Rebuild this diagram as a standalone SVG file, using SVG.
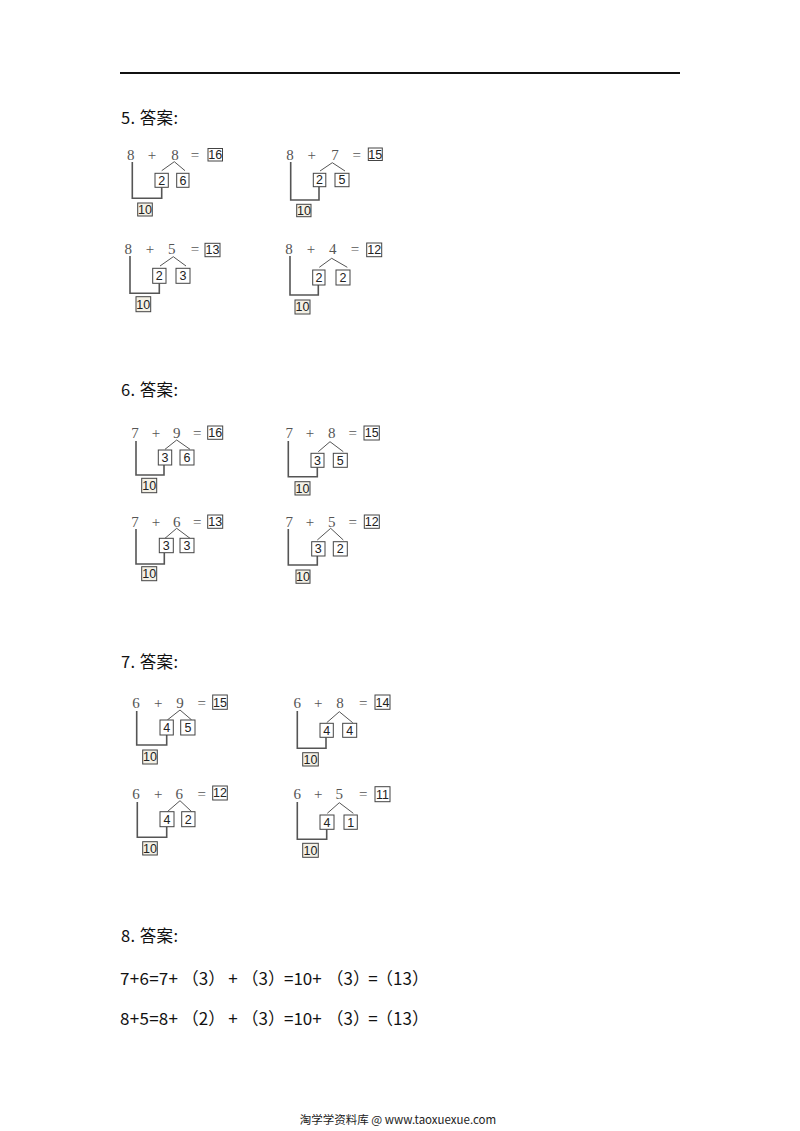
<svg xmlns="http://www.w3.org/2000/svg" width="800" height="1131" viewBox="0 0 800 1131">
<style>
.hd{font-family:"Noto Sans CJK SC","Noto Sans",sans-serif;font-size:16.5px;fill:#111}
.eq{font-family:"Liberation Serif",serif;font-size:15px;fill:#555;text-anchor:middle}
.bx{fill:#fff;stroke:#444;stroke-width:1}
.tb{fill:#f4f1e6;stroke:#444;stroke-width:1}
.bt{font-family:"Liberation Sans",sans-serif;font-size:12.5px;fill:#222;text-anchor:middle}
.ln{stroke:#555;stroke-width:1.6;fill:none}
.br{stroke:#555;stroke-width:1;fill:none}
.s8{font-family:"Noto Sans CJK SC","Noto Sans",sans-serif;font-size:17px;fill:#111}
.m{text-anchor:middle}
.ft{font-family:"Noto Sans CJK SC","Noto Sans",sans-serif;font-size:11.5px;fill:#222;text-anchor:middle}
</style>
<rect width="800" height="1131" fill="#fff"/>
<line x1="120" y1="73" x2="680" y2="73" stroke="#111" stroke-width="2.2"/>

<g id="headings">
<text class="hd" x="121" y="124" textLength="57" lengthAdjust="spacing">5. 答案:</text>
<text class="hd" x="121" y="396" textLength="57" lengthAdjust="spacing">6. 答案:</text>
<text class="hd" x="121" y="668" textLength="57" lengthAdjust="spacing">7. 答案:</text>
<text class="hd" x="121" y="942" textLength="57" lengthAdjust="spacing">8. 答案:</text>
</g>

<g id="connectors">
<path class="ln" d="M132.3 162 V198.3 H161.7 V187.3"/>
<path class="br" d="M161.7 170.7 L174.3 161.7 L185 170.7"/>
<path class="ln" d="M290.7 162 V200 H319 V186.7"/>
<path class="br" d="M320 171 L332.3 162.7 L345 171"/>
<path class="ln" d="M130 256 V293.3 H159.3 V283.3"/>
<path class="br" d="M160 266 L173.3 256.7 L186 266"/>
<path class="ln" d="M290 256 V295 H318.3 V285"/>
<path class="br" d="M319.3 267.3 L331.7 258.3 L347.3 267.3"/>
<path class="ln" d="M136 441 V475 H164 V465"/>
<path class="br" d="M165 449.3 L176.7 440 L190 449.3"/>
<path class="ln" d="M288.3 441 V476.7 H317.3 V467.3"/>
<path class="br" d="M318.3 451.7 L330 441.7 L343.3 451.7"/>
<path class="ln" d="M136 529 V564 H164.3 V552.7"/>
<path class="br" d="M165 538.3 L176.7 528.3 L190 538.3"/>
<path class="ln" d="M288.3 529 V565 H317.3 V556"/>
<path class="br" d="M317.3 540 L330.7 528.3 L343.3 540"/>
<path class="ln" d="M136.7 711 V745 H166.7 V735"/>
<path class="br" d="M167.3 720 L180 710 L191.7 720"/>
<path class="ln" d="M297.3 711 V748.3 H326 V737.3"/>
<path class="br" d="M326.7 722.7 L339.3 711.7 L352.7 722.7"/>
<path class="ln" d="M137.3 802 V837.3 H166.7 V826.7"/>
<path class="br" d="M167.3 811.7 L180 800.7 L191.7 811.7"/>
<path class="ln" d="M297.3 802 V839.3 H326.7 V829.3"/>
<path class="br" d="M327.3 813.3 L339.3 802.7 L353.3 813.3"/>
</g>

<g id="d5a">
<text class="eq" x="130.7" y="160">8</text><text class="eq" x="152" y="160">+</text><text class="eq" x="175" y="160">8</text><text class="eq" x="195" y="160">=</text>
<rect class="bx" x="208" y="148.5" width="14.5" height="12.5"/><text class="bt" x="215.3" y="159.2">16</text>
<rect class="bx" x="155" y="173.3" width="13.3" height="14"/><text class="bt" x="161.7" y="184.7">2</text>
<rect class="bx" x="176.7" y="173.3" width="12.3" height="14"/><text class="bt" x="182.9" y="184.7">6</text>
<rect class="tb" x="137.7" y="203" width="14.6" height="13"/><text class="bt" x="145" y="213.9">10</text>
</g>

<g id="d5b">
<text class="eq" x="290" y="160">8</text><text class="eq" x="311.7" y="160">+</text><text class="eq" x="335" y="160">7</text><text class="eq" x="356.7" y="160">=</text>
<rect class="bx" x="368.3" y="148" width="14" height="12.5"/><text class="bt" x="375.3" y="158.7">15</text>
<rect class="bx" x="313.3" y="173.3" width="12.5" height="13.4"/><text class="bt" x="319.5" y="184.4">2</text>
<rect class="bx" x="335" y="173.3" width="14" height="13.4"/><text class="bt" x="342" y="184.4">5</text>
<rect class="tb" x="296.7" y="204.3" width="14.3" height="12.4"/><text class="bt" x="303.9" y="214.9">10</text>
</g>

<g id="d5c">
<text class="eq" x="128.3" y="253.5">8</text><text class="eq" x="150" y="253.5">+</text><text class="eq" x="171.7" y="253.5">5</text><text class="eq" x="195" y="253.5">=</text>
<rect class="bx" x="205" y="243.3" width="15" height="13.4"/><text class="bt" x="212.5" y="254.4">13</text>
<rect class="bx" x="152.7" y="268.3" width="13.3" height="15"/><text class="bt" x="159.3" y="280.2">2</text>
<rect class="bx" x="176" y="268.3" width="14" height="15"/><text class="bt" x="183" y="280.2">3</text>
<rect class="tb" x="136" y="296.7" width="14.7" height="15"/><text class="bt" x="143.3" y="308.6">10</text>
</g>

<g id="d5d">
<text class="eq" x="289" y="253.5">8</text><text class="eq" x="311" y="253.5">+</text><text class="eq" x="332.7" y="253.5">4</text><text class="eq" x="355" y="253.5">=</text>
<rect class="bx" x="366.7" y="243" width="15" height="13.7"/><text class="bt" x="374.2" y="254.3">12</text>
<rect class="bx" x="312.7" y="270" width="12.3" height="15"/><text class="bt" x="318.9" y="281.9">2</text>
<rect class="bx" x="336" y="270" width="14" height="15"/><text class="bt" x="343" y="281.9">2</text>
<rect class="tb" x="295" y="300" width="15" height="14"/><text class="bt" x="302.5" y="311.4">10</text>
</g>

<g id="d6a">
<text class="eq" x="135" y="438.3">7</text><text class="eq" x="156" y="438.3">+</text><text class="eq" x="176.7" y="438.3">9</text><text class="eq" x="197.3" y="438.3">=</text>
<rect class="bx" x="207.7" y="426" width="15" height="13.3"/><text class="bt" x="215.2" y="437.1">16</text>
<rect class="bx" x="158.3" y="450" width="13.4" height="15"/><text class="bt" x="165" y="461.9">3</text>
<rect class="bx" x="180" y="450" width="14" height="15"/><text class="bt" x="187" y="461.9">6</text>
<rect class="tb" x="141.7" y="478.3" width="15" height="14.4"/><text class="bt" x="149.2" y="489.9">10</text>
</g>

<g id="d6b">
<text class="eq" x="289.3" y="438">7</text><text class="eq" x="310" y="438">+</text><text class="eq" x="331.7" y="438">8</text><text class="eq" x="352.7" y="438">=</text>
<rect class="bx" x="364" y="426" width="15.3" height="14"/><text class="bt" x="371.7" y="437.4">15</text>
<rect class="bx" x="311" y="453.3" width="13" height="14"/><text class="bt" x="317.5" y="464.7">3</text>
<rect class="bx" x="333.3" y="453.3" width="14" height="14"/><text class="bt" x="340.3" y="464.7">5</text>
<rect class="tb" x="295" y="481.7" width="15" height="13.3"/><text class="bt" x="302.5" y="492.8">10</text>
</g>

<g id="d6c">
<text class="eq" x="135" y="526.7">7</text><text class="eq" x="156" y="526.7">+</text><text class="eq" x="176.7" y="526.7">6</text><text class="eq" x="197.3" y="526.7">=</text>
<rect class="bx" x="207.7" y="515" width="15" height="13.3"/><text class="bt" x="215.2" y="526.1">13</text>
<rect class="bx" x="159.3" y="538.3" width="14" height="14.4"/><text class="bt" x="166.3" y="549.9">3</text>
<rect class="bx" x="180" y="538.3" width="14" height="14.4"/><text class="bt" x="187" y="549.9">3</text>
<rect class="tb" x="141.7" y="566.7" width="15" height="14"/><text class="bt" x="149.2" y="578.1">10</text>
</g>

<g id="d6d">
<text class="eq" x="289.3" y="526.7">7</text><text class="eq" x="310" y="526.7">+</text><text class="eq" x="331.7" y="526.7">5</text><text class="eq" x="352.7" y="526.7">=</text>
<rect class="bx" x="364.3" y="515" width="15" height="13.3"/><text class="bt" x="371.8" y="526.1">12</text>
<rect class="bx" x="311.7" y="541.7" width="13.3" height="14.3"/><text class="bt" x="318.3" y="553.3">3</text>
<rect class="bx" x="333.3" y="541.7" width="14" height="14.3"/><text class="bt" x="340.3" y="553.3">2</text>
<rect class="tb" x="296" y="570" width="14" height="13.3"/><text class="bt" x="303" y="581.1">10</text>
</g>

<g id="d7a">
<text class="eq" x="136" y="708.3">6</text><text class="eq" x="158.3" y="708.3">+</text><text class="eq" x="180" y="708.3">9</text><text class="eq" x="201.7" y="708.3">=</text>
<rect class="bx" x="212.7" y="695" width="14.6" height="14.3"/><text class="bt" x="220" y="706.6">15</text>
<rect class="bx" x="160" y="720" width="13.3" height="15"/><text class="bt" x="166.7" y="731.9">4</text>
<rect class="bx" x="180.7" y="720" width="14.3" height="15"/><text class="bt" x="187.9" y="731.9">5</text>
<rect class="tb" x="142.7" y="750" width="14.6" height="14"/><text class="bt" x="150" y="761.4">10</text>
</g>

<g id="d7b">
<text class="eq" x="297.3" y="708.3">6</text><text class="eq" x="318.3" y="708.3">+</text><text class="eq" x="340" y="708.3">8</text><text class="eq" x="363.3" y="708.3">=</text>
<rect class="bx" x="375" y="695" width="15" height="14.3"/><text class="bt" x="382.5" y="706.6">14</text>
<rect class="bx" x="320" y="723.3" width="13.3" height="14"/><text class="bt" x="326.7" y="734.7">4</text>
<rect class="bx" x="342.7" y="723.3" width="14" height="14"/><text class="bt" x="349.7" y="734.7">4</text>
<rect class="tb" x="302.7" y="752.7" width="15.6" height="13.3"/><text class="bt" x="310.5" y="763.8">10</text>
</g>

<g id="d7c">
<text class="eq" x="136" y="799.3">6</text><text class="eq" x="158.3" y="799.3">+</text><text class="eq" x="179.3" y="799.3">6</text><text class="eq" x="201.7" y="799.3">=</text>
<rect class="bx" x="212.7" y="786" width="14.6" height="14"/><text class="bt" x="220" y="797.4">12</text>
<rect class="bx" x="160" y="811.7" width="14" height="15"/><text class="bt" x="167" y="823.6">4</text>
<rect class="bx" x="181.7" y="811.7" width="13.3" height="15"/><text class="bt" x="188.3" y="823.6">2</text>
<rect class="tb" x="142.7" y="841.7" width="14.6" height="13.3"/><text class="bt" x="150" y="852.8">10</text>
</g>

<g id="d7d">
<text class="eq" x="297.3" y="799.3">6</text><text class="eq" x="318.3" y="799.3">+</text><text class="eq" x="339.3" y="799.3">5</text><text class="eq" x="363.3" y="799.3">=</text>
<rect class="bx" x="375" y="786.7" width="15" height="15"/><text class="bt" x="382.5" y="798.6">11</text>
<rect class="bx" x="320" y="815" width="14" height="14.3"/><text class="bt" x="327" y="826.6">4</text>
<rect class="bx" x="344" y="815" width="13.3" height="14.3"/><text class="bt" x="350.7" y="826.6">1</text>
<rect class="tb" x="302.7" y="843.3" width="15.6" height="14"/><text class="bt" x="310.5" y="854.7">10</text>
</g>

<g id="q8">
<text class="s8" x="120" y="985" textLength="58" lengthAdjust="spacing">7+6=7+</text>
<text class="s8 m" x="203.5" y="985">（3）</text>
<text class="s8 m" x="233" y="985">+</text>
<text class="s8 m" x="263.3" y="985">（3）</text>
<text class="s8" x="284" y="985">=10+</text>
<text class="s8 m" x="348.3" y="985">（3）</text>
<text class="s8 m" x="373" y="985">=</text>
<text class="s8 m" x="402.5" y="985">（13）</text>
<text class="s8" x="120" y="1025" textLength="58" lengthAdjust="spacing">8+5=8+</text>
<text class="s8 m" x="203.5" y="1025">（2）</text>
<text class="s8 m" x="233" y="1025">+</text>
<text class="s8 m" x="263.3" y="1025">（3）</text>
<text class="s8" x="284" y="1025">=10+</text>
<text class="s8 m" x="348.3" y="1025">（3）</text>
<text class="s8 m" x="373" y="1025">=</text>
<text class="s8 m" x="402.5" y="1025">（13）</text>
</g>

<text class="ft" x="398" y="1124">淘学学资料库 @ www.taoxuexue.com</text>
</svg>
